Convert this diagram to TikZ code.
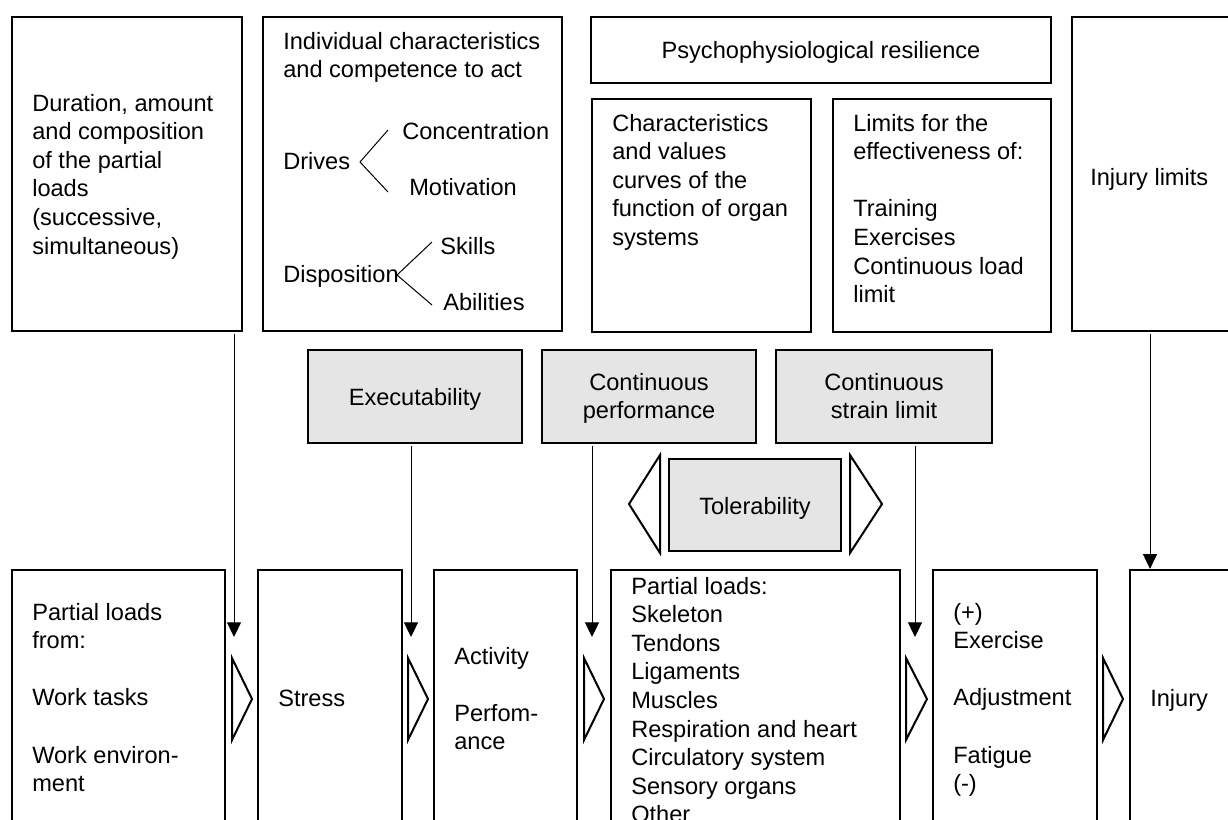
\documentclass[tikz,border=0pt]{standalone}
\usepackage{fontspec}
\setmainfont{Liberation Sans}
\usetikzlibrary{fit,arrows.meta}
\newcommand\blockfont{\fontsize{17.7pt}{21.4pt}\selectfont}
\newcommand\topstrut{\vrule height 16pt depth 0pt width 0pt}
\begin{document}
\begin{tikzpicture}[x=0.75pt,y=-0.75pt,
  box/.style={draw, line width=1.75pt, inner sep=0pt},
  graybox/.style={box, fill=gray!20},
  txt/.style={anchor=north west, align=left, inner sep=0pt, font=\blockfont,
              execute at begin node=\topstrut},
  ctxt/.style={txt, anchor=north, align=center},
  lbl/.style={anchor=base west, inner sep=0pt, font=\blockfont},
  clbl/.style={lbl, anchor=base},
  arr/.style={line width=0.75pt, shorten <=1pt, -{Triangle[width=10.5pt,length=11pt]}},
  brace/.style={line width=0.75pt},
  chev/.style={draw, line width=1.5pt, fill=white}]
\useasboundingbox (0,0) rectangle (1228,819);
\clip (0,0) rectangle (1228,819);
\fill[white] (0,0) rectangle (1228,819);

% upper row
\node[box, fit={(12,17) (242,331)}] (dur) {};
\node[txt] (durtxt) at (32,94) {Duration, amount\\and composition\\of the partial\\loads\\(successive,\\simultaneous)};

\node[box, fit={(263,17) (562,331)}] (indiv) {};
\node[txt] (indivtxt) at (283,32) {Individual characteristics\\and competence to act};
\node[lbl] (drives) at (283,169) {Drives};
\node[lbl] (conc) at (402,139) {Concentration};
\node[lbl] (motiv) at (409,195) {Motivation};
\node[lbl] (dispo) at (283,282) {Disposition};
\node[lbl] (skills) at (440,254) {Skills};
\node[lbl] (abil) at (443,310) {Abilities};
\coordinate (dvtx) at (360,162);
\coordinate (pvtx) at (397,275);
\draw[brace] (388,130) -- (dvtx) -- (388,192);
\draw[brace] (432,242) -- (pvtx) -- (432,305);

\node[box, fit={(591,17) (1051,83)}] (psych) {};
\node[clbl] (psychtxt) at (821,58) {Psychophysiological resilience};
\node[box, fit={(592,99) (811,332)}] (charac) {};
\node[txt] (charactxt) at (612,114) {Characteristics\\and values\\curves of the\\function of organ\\systems};
\node[box, fit={(833,99) (1051,332)}] (limits) {};
\node[txt] (limitstxt) at (853,114) {Limits for the\\effectiveness of:\\[21.4pt]Training\\Exercises\\Continuous load\\limit};

\node[box, fit={(1072,17) (1250,331)}] (injlim) {};
\node[lbl] (injlimtxt) at (1090,185) {Injury limits};

% middle row
\node[graybox, fit={(308,350) (522,443)}] (exec) {};
\node[clbl] (exectxt) at (415,405) {Executability};
\node[graybox, fit={(542,350) (756,443)}] (contperf) {};
\node[ctxt] (contperftxt) at (649,373) {Continuous\\performance};
\node[graybox, fit={(776,350) (992,443)}] (contstr) {};
\node[ctxt] (contstrtxt) at (884,373) {Continuous\\strain limit};
\node[graybox, fit={(669,459) (841,551)}] (toler) {};
\node[clbl] (tolertxt) at (755,514) {Tolerability};
\draw[chev] (660,455) -- (629,504) -- (660,553) -- cycle;
\draw[chev] (850,455) -- (882,504) -- (850,553) -- cycle;

% lower row
\node[box, fit={(12,570) (225,840)}] (b1) {};
\node[txt] (b1txt) at (32,603) {Partial loads\\from:\\[21.4pt]Work tasks\\[21.4pt]Work environ-\\ment};
\node[box, fit={(258,570) (402,840)}] (b2) {};
\node[lbl] (stress) at (278,706) {Stress};
\node[box, fit={(434,570) (577,840)}] (b3) {};
\node[txt] (b3txt) at (454,647) {Activity\\[21.4pt]Perfom-\\ance};
\node[box, fit={(611,570) (900,840)}] (b4) {};
\node[txt] (b4txt) at (631,577) {Partial loads:\\Skeleton\\Tendons\\Ligaments\\Muscles\\Respiration and heart\\Circulatory system\\Sensory organs\\Other};
\node[box, fit={(933,570) (1097,840)}] (b5) {};
\node[txt] (b5txt) at (953,603) {(+)\\Exercise\\[21.4pt]Adjustment\\[21.4pt]Fatigue\\(-)};
\node[box, fit={(1130,570) (1250,840)}] (b6) {};
\node[lbl] (injury) at (1150,706) {Injury};

% flow chevrons between the lower boxes
\draw[chev] (232,658) -- (252,699) -- (232,740) -- cycle;
\draw[chev] (408,658) -- (428,699) -- (408,740) -- cycle;
\draw[chev] (584,658) -- (604,699) -- (584,740) -- cycle;
\draw[chev] (906,658) -- (927,699) -- (906,740) -- cycle;
\draw[chev] (1103,658) -- (1123,699) -- (1103,740) -- cycle;

% influence arrows
\coordinate (t1) at (234,637);
\coordinate (t2) at (411,637);
\coordinate (t3) at (592,637);
\coordinate (t4) at (915,637);
\coordinate (t5) at (1150,570);
\draw[arr] (dur.south -| t1) -- (t1);
\draw[arr] (exec.south -| t2) -- (t2);
\draw[arr] (contperf.south -| t3) -- (t3);
\draw[arr] (contstr.south -| t4) -- (t4);
\draw[arr] (injlim.south -| t5) -- (b6.north -| t5);
\end{tikzpicture}
\end{document}
